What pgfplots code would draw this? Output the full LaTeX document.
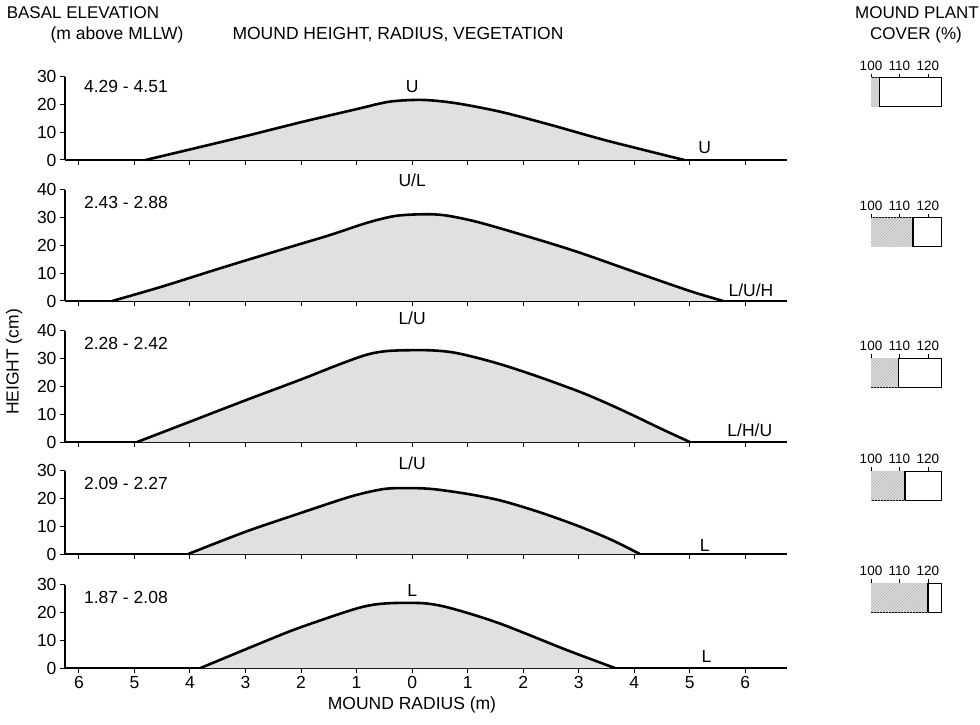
\documentclass[border=0pt]{standalone}
\usepackage{fontspec}
\setmainfont{Liberation Sans}
\usepackage{pgfplots}
\pgfplotsset{compat=1.18}
\usetikzlibrary{patterns}
\newcommand{\fs}{\fontsize{17.5}{21}\selectfont}
\newcommand{\fsh}{\fontsize{17}{20.4}\selectfont}
\newcommand{\fss}{\fontsize{13.5}{16}\selectfont}
\definecolor{mfill}{gray}{0.88}
\definecolor{cfill}{gray}{0.86}
\pgfplotsset{
  mound/.style={scale only axis, width=722pt, anchor=south west,
    xmin=-6.25, xmax=6.75, ymin=0,
    axis x line=bottom, axis y line=left,
    axis line style={-, line width=1.2pt},
    xtick={-6,-5,...,6}, xticklabels={},
    tick align=outside, major tick length=5pt,
    tick style={black, line width=1pt},
    clip=false,
    /pgf/number format/assume math mode=true,
    tick label style={font=\fs},
  },
  p30/.style={mound, ymax=30, height=83.4pt, ytick={0,10,20,30}},
  p40/.style={mound, ymax=40, height=111.2pt, ytick={0,10,20,30,40}},
  cover/.style={scale only axis, width=70pt, height=29pt, anchor=south west,
    xmin=100, xmax=124.6, ymin=0, ymax=1,
    axis line style={line width=1pt},
    xtick={100,110,120}, xtick pos=right, xticklabel pos=right, ytick=\empty,
    tick align=outside, major tick length=4pt, tick style={black, line width=0.8pt},
    /pgf/number format/assume math mode=true,
    tick label style={font=\fss}},
  mfillst/.style={fill=mfill, draw=none, smooth, tension=0.5},
  mline/.style={line width=2.6pt, smooth, tension=0.5},
  cbar/.style={fill=cfill, draw=none, postaction={pattern=north east lines, pattern color=gray!55}},
}
\begin{document}
\begin{tikzpicture}[x=1pt,y=1pt]
\useasboundingbox (0,0) rectangle (980,724);
% headers
\node[font=\fsh] at (83,711) {BASAL ELEVATION};
\node[font=\fs] at (117,689) {(m above MLLW)};
\node[font=\fs] at (398,689) {MOUND HEIGHT, RADIUS, VEGETATION};
\node[font=\fsh] at (917,711) {MOUND PLANT};
\node[font=\fsh] at (916,689) {COVER (\%)};
\node[font=\fs, rotate=90] at (14,362) {HEIGHT (cm)};
\node[font=\fs] at (412,19) {MOUND RADIUS (m)};

% Panel 1
\begin{axis}[p30, at={(65pt,564pt)}]
\addplot[mfillst] coordinates {(-4.8,0) (-4,3.8) (-3,8.6) (-2,13.6) (-1,18.3) (-0.4,21) (0.2,21.6) (0.8,20.4) (1.6,17.3) (2.5,12.6) (3.5,7) (4.9,0)} \closedcycle;
\addplot[mline] coordinates {(-4.8,0) (-4,3.8) (-3,8.6) (-2,13.6) (-1,18.3) (-0.4,21) (0.2,21.6) (0.8,20.4) (1.6,17.3) (2.5,12.6) (3.5,7) (4.9,0)};
\node[font=\fs] at (axis cs:0,26.3) {U};
\node[font=\fs] at (axis cs:5.27,4.3) {U};
\node[font=\fs, anchor=west] at (axis cs:-5.97,26.3) {4.29 - 4.51};
\end{axis}

% Panel 2
\begin{axis}[p40, at={(65pt,423pt)}]
\addplot[mfillst] coordinates {(-5.4,0) (-4.5,5.2) (-3.5,11.5) (-2.5,17.6) (-1.5,23.6) (-0.8,28.2) (-0.3,30.6) (0.2,31.2) (0.6,30.8) (1.2,28.3) (2.2,22.5) (3,17.5) (4,10.5) (5,3.6) (5.6,0)} \closedcycle;
\addplot[mline] coordinates {(-5.4,0) (-4.5,5.2) (-3.5,11.5) (-2.5,17.6) (-1.5,23.6) (-0.8,28.2) (-0.3,30.6) (0.2,31.2) (0.6,30.8) (1.2,28.3) (2.2,22.5) (3,17.5) (4,10.5) (5,3.6) (5.6,0)};
\node[font=\fs] at (axis cs:0,43.5) {U/L};
\node[font=\fs] at (axis cs:6.1,4) {L/U/H};
\node[font=\fs, anchor=west] at (axis cs:-5.97,35.3) {2.43 - 2.88};
\end{axis}

% Panel 3
\begin{axis}[p40, at={(65pt,282pt)}]
\addplot[mfillst] coordinates {(-4.95,0) (-4,7.3) (-3,15) (-2,22.5) (-1.3,28) (-0.8,31.5) (-0.4,32.8) (0.3,33) (0.8,32) (1.5,28.5) (2.2,24) (3,18.2) (3.5,14) (4,9.4) (4.5,4.6) (5,0)} \closedcycle;
\addplot[mline] coordinates {(-4.95,0) (-4,7.3) (-3,15) (-2,22.5) (-1.3,28) (-0.8,31.5) (-0.4,32.8) (0.3,33) (0.8,32) (1.5,28.5) (2.2,24) (3,18.2) (3.5,14) (4,9.4) (4.5,4.6) (5,0)};
\node[font=\fs] at (axis cs:0,44.6) {L/U};
\node[font=\fs] at (axis cs:6.08,4.3) {L/H/U};
\node[font=\fs, anchor=west] at (axis cs:-5.97,35.6) {2.28 - 2.42};
\end{axis}

% Panel 4
\begin{axis}[p30, at={(65pt,170pt)}]
\addplot[mfillst] coordinates {(-4.03,0) (-3,8) (-2,14.8) (-1.1,20.7) (-0.5,23.4) (0,23.7) (0.4,23.3) (1,21.6) (1.6,19.2) (2.3,15) (3,10) (3.6,5) (4.1,0)} \closedcycle;
\addplot[mline] coordinates {(-4.03,0) (-3,8) (-2,14.8) (-1.1,20.7) (-0.5,23.4) (0,23.7) (0.4,23.3) (1,21.6) (1.6,19.2) (2.3,15) (3,10) (3.6,5) (4.1,0)};
\node[font=\fs] at (axis cs:0,32.7) {L/U};
\node[font=\fs] at (axis cs:5.27,3.2) {L};
\node[font=\fs, anchor=west] at (axis cs:-5.97,25.5) {2.09 - 2.27};
\end{axis}

% Panel 5
\begin{axis}[p30, at={(65pt,56pt)}, xticklabels={6,5,4,3,2,1,0,1,2,3,4,5,6}]
\addplot[mfillst] coordinates {(-3.81,0) (-2.6,10) (-2,14.7) (-1,21.4) (-0.5,23.2) (0.2,23.3) (0.7,21.5) (1.58,16) (2.78,6.5) (3.65,0)} \closedcycle;
\addplot[mline] coordinates {(-3.81,0) (-2.6,10) (-2,14.7) (-1,21.4) (-0.5,23.2) (0.2,23.3) (0.7,21.5) (1.58,16) (2.78,6.5) (3.65,0)};
\node[font=\fs] at (axis cs:0,28) {L};
\node[font=\fs] at (axis cs:5.3,4) {L};
\node[font=\fs, anchor=west] at (axis cs:-5.97,25.5) {1.87 - 2.08};
\end{axis}

% Cover boxes
\begin{axis}[cover, at={(871pt,617pt)}]
\addplot[cbar] coordinates {(100,1) (103,1)} \closedcycle;
\addplot[line width=1.5pt] coordinates {(103,0) (103,1)};
\end{axis}
\begin{axis}[cover, at={(871pt,477pt)}]
\addplot[cbar] coordinates {(100,1) (114.7,1)} \closedcycle;
\addplot[line width=1.5pt] coordinates {(114.7,0) (114.7,1)};
\end{axis}
\begin{axis}[cover, at={(871pt,337pt)}]
\addplot[cbar] coordinates {(100,1) (109.6,1)} \closedcycle;
\addplot[line width=1.5pt] coordinates {(109.6,0) (109.6,1)};
\end{axis}
\begin{axis}[cover, at={(871pt,224pt)}]
\addplot[cbar] coordinates {(100,1) (112,1)} \closedcycle;
\addplot[line width=1.5pt] coordinates {(112,0) (112,1)};
\end{axis}
\begin{axis}[cover, at={(871pt,112pt)}]
\addplot[cbar] coordinates {(100,1) (120,1)} \closedcycle;
\addplot[line width=1.5pt] coordinates {(120,0) (120,1)};
\end{axis}
\end{tikzpicture}
\end{document}
